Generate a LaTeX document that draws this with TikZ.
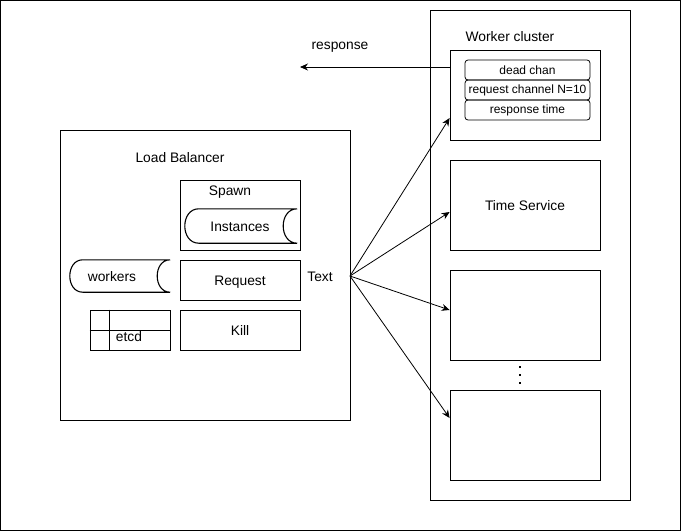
\documentclass[tikz,border=0pt]{standalone}
\usepackage{fontspec}
\setmainfont{Liberation Sans}
\usetikzlibrary{arrows.meta,calc}
\tikzset{
  box/.style={draw,line width=0.8pt,inner sep=0pt},
  chan/.style={draw,line width=0.8pt,rounded corners=3pt,inner sep=0pt,minimum width=125pt,minimum height=20pt,font=\fontsize{12}{14}\selectfont},
  lbl/.style={inner sep=0pt,font=\fontsize{13.8}{16}\selectfont},
  ln/.style={line width=0.8pt},
  tapeln/.style={line width=1.1pt},
  arr/.style={line width=0.8pt,-{Stealth[length=8pt,width=7pt]}},
}
\newcommand\ctext[1]{\raisebox{-5.8pt}[0pt][0pt]{#1}}
\newcommand\dstore[2]{%
  \draw[tapeln] ([xshift=#2pt]#1.north west) -- (#1.north east)
    .. controls ([xshift=-4*#2/3 pt]#1.north east) and ([xshift=-4*#2/3 pt]#1.south east) .. (#1.south east)
    -- ([xshift=#2pt]#1.south west)
    .. controls ([xshift=-#2/3 pt]#1.south west) and ([xshift=-#2/3 pt]#1.north west) .. ([xshift=#2pt]#1.north west) -- cycle;}
\begin{document}
\begin{tikzpicture}[x=1pt,y=-1pt,font=\fontsize{13.8}{16}\selectfont]
\useasboundingbox (0,0) rectangle (681,531);
\draw[ln] (0.5,0.5) rectangle (680.2,530.2);
% Worker cluster
\node[box,minimum width=200pt,minimum height=490pt] (wc) at (530,255) {};
\node[lbl] (wct) at (510,37) {Worker cluster};
\node[box,minimum width=150pt,minimum height=90pt] (b1) at (525,95) {};
\node[chan] (dc) at (527.5,70) {dead chan};
\node[chan] (rc) at (527.5,90) {request channel N=10};
\node[chan] (rt) at (527.5,110) {response time};
\node[box,minimum width=150pt,minimum height=90pt] (b2) at (525,205) {\ctext{Time Service}};
\node[box,minimum width=150pt,minimum height=90pt] (b3) at (525,315) {};
\node[box,minimum width=150pt,minimum height=90pt] (b4) at (525,435) {};
\foreach \yy in {367,375,383} \fill (519.2,\yy-0.8) rectangle (520.8,\yy+0.8);
% response
\coordinate (resp) at (300,67);
\draw[arr] ([yshift=28pt]b1.west) -- (resp);
\node[lbl] (respt) at (340,47) {response};
% Load balancer
\node[box,minimum width=290pt,minimum height=290pt] (lb) at (205,275) {};
\node[lbl] (lbt) at (180,158) {Load Balancer};
\node[box,minimum width=120pt,minimum height=70pt] (spawn) at (240,215) {};
\node[lbl] (spt) at (230,192) {Spawn};
\node[inner sep=0pt,minimum width=112pt,minimum height=34pt] (inst) at (241,226) {};
\dstore{inst}{14}
\node[lbl] (instt) at (240,227) {Instances};
\node[box,minimum width=120pt,minimum height=40pt] (req) at (240,280) {\ctext{Request}};
\node[box,minimum width=120pt,minimum height=40pt] (kill) at (240,330) {\ctext{Kill}};
\node[inner sep=0pt,minimum width=100pt,minimum height=32pt] (wk) at (120,276) {};
\dstore{wk}{13}
\node[lbl] (wkt) at (112,277) {workers};
\node[box,minimum width=80pt,minimum height=40pt] (etcd) at (130,330) {};
\draw[ln] ([xshift=20pt]etcd.north west) -- ([xshift=20pt]etcd.south west);
\draw[ln] (etcd.west) -- (etcd.east);
\node[lbl] (etcdt) at (129,337) {etcd};
% Text and arrows
\node[lbl] (txt) at (320,277) {Text};
\coordinate (src) at (350,276);
\draw[arr] (src) -- ([yshift=-23pt]b1.west);
\draw[arr] (src) -- ([yshift=-7pt]b2.west);
\draw[arr] (src) -- ([yshift=5pt]b3.west);
\draw[arr] (src) -- ([yshift=17pt]b4.west);
\end{tikzpicture}
\end{document}
